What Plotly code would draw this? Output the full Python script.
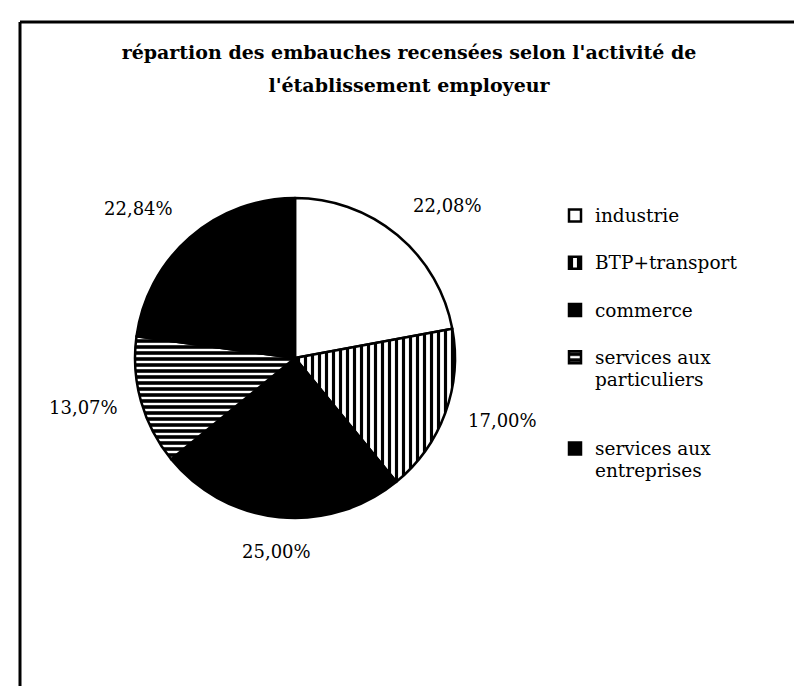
import math
import plotly.graph_objects as go

# ---- data ----
categories = ["industrie", "BTP+transport", "commerce",
              "services aux particuliers", "services aux entreprises"]
legend_lines = [["industrie"], ["BTP+transport"], ["commerce"],
                ["services aux", "particuliers"], ["services aux", "entreprises"]]
shares = [22.08, 17.00, 25.00, 13.07, 22.84]
pattern_shapes = ["", "|", "", "-", ""]
fill_colors = ["#ffffff", "#ffffff", "#000000", "#000000", "#000000"]
title_lines = ["répartion des embauches recensées selon l'activité de",
               "l'établissement employeur"]

W, H = 802, 686
CX, CY, R = 287, 350, 160   # pie placement in pixels
SERIF = "DejaVu Serif"

def fmt(v):
    return f"{v:.2f}".replace(".", ",") + "%"

def span(t, size, bold=False):
    inner = f"<b>{t}</b>" if bold else t
    return f"<span style='font-size:{size}px'>{inner}</span>"

# legend text: visible lines in a larger size, padded with blank lines so the
# vertical item spacing matches the reference
legend_text = []
for lines in legend_lines:
    txt = "<br>".join(span(l, 18.5) for l in lines)
    pad = 1 if len(lines) == 1 else 2
    txt += "<br> " * pad
    legend_text.append(txt)

title_text = "<br>".join(span(l, 19, bold=True) for l in title_lines)

fig = go.Figure()
fig.add_trace(go.Pie(
    labels=legend_text,
    values=shares,
    sort=False,
    direction="clockwise",
    rotation=0,
    textinfo="none",
    hoverinfo="skip",
    marker=dict(
        colors=fill_colors,
        line=dict(color="#000000", width=2.5),
        pattern=dict(
            shape=pattern_shapes,
            fgcolor="#000000",
            bgcolor=["#ffffff", "#ffffff", "#000000", "#ffffff", "#000000"],
            size=[8, 7, 8, 6, 8],
            solidity=[0.3, 0.45, 0.3, 0.6, 0.3],
            fillmode="replace",
        ),
    ),
    domain=dict(x=[(CX - R) / W, (CX + R) / W],
                y=[1 - (CY + R) / H, 1 - (CY - R) / H]),
    showlegend=True,
))

# percentage labels placed outside each slice, derived from the data
annotations = []
total = sum(shares)
cum = 0.0
for v in shares:
    mid = (cum + v / 2) / total * 2 * math.pi
    cum += v
    s, c = math.sin(mid), math.cos(mid)
    d = R + 22
    px = CX + d * s
    py = CY - d * c
    xa = "left" if s > 0.35 else ("right" if s < -0.35 else "center")
    ya = "bottom" if c > 0.35 else ("top" if c < -0.35 else "middle")
    annotations.append(dict(
        x=px / W, y=1 - py / H, xref="paper", yref="paper",
        text=fmt(v), showarrow=False, xanchor=xa, yanchor=ya,
        font=dict(family=SERIF, size=18, color="#000000"),
    ))

shapes = [
    dict(type="line", xref="paper", yref="paper",
         x0=12 / W, x1=1, y0=1 - 14 / H, y1=1 - 14 / H,
         line=dict(color="#000000", width=3)),
    dict(type="line", xref="paper", yref="paper",
         x0=12 / W, x1=12 / W, y0=1 - 14 / H, y1=0,
         line=dict(color="#000000", width=3)),
]

fig.update_layout(
    width=W, height=H,
    margin=dict(l=0, r=0, t=0, b=0),
    paper_bgcolor="#ffffff",
    plot_bgcolor="#ffffff",
    title=dict(text=title_text, x=0.5, xanchor="center",
               y=1 - 51 / H, yanchor="top",
               font=dict(family=SERIF, size=25, color="#000000")),
    legend=dict(x=547 / W, y=1 - 190 / H, xanchor="left", yanchor="top",
                valign="top", font=dict(family=SERIF, size=17, color="#000000"),
                bgcolor="rgba(0,0,0,0)", itemclick=False),
    annotations=annotations,
    shapes=shapes,
)

fig.write_html("out.html")
